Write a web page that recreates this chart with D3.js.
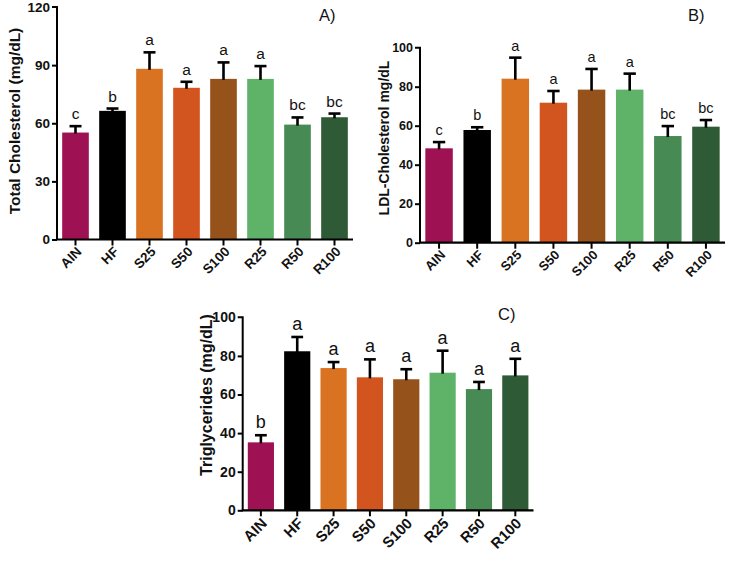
<!DOCTYPE html>
<html>
<head>
<meta charset="utf-8">
<script src="https://cdn.jsdelivr.net/npm/d3@7"></script>
<style>
  html, body { margin: 0; padding: 0; background: #fff; }
  svg { display: block; }
  text { font-family: "Liberation Sans", Arial, sans-serif; }
</style>
</head>
<body>
<svg id="chart" width="733" height="564"></svg>
<script>
// ---- data ----
const groups = ["AIN", "HF", "S25", "S50", "S100", "R25", "R50", "R100"];
const colors = ["#9E1153", "#000000", "#D97321", "#D2541F", "#95521B", "#5EB369", "#488A54", "#2E5A35"];

const totalChol     = [55.2, 66.4, 88.1, 78.3, 82.9, 82.9, 59.3, 63.1];
const totalCholErr  = [3.3, 1.2, 8.5, 3.1, 8.5, 6.6, 3.7, 1.9];
const totalCholSig  = ["c", "b", "a", "a", "a", "a", "bc", "bc"];
const totalCholTicks = [0, 30, 60, 90, 120];

const ldlChol     = [48.4, 57.8, 84.1, 71.8, 78.5, 78.5, 54.7, 59.5];
const ldlCholErr  = [3.2, 1.4, 10.8, 6.0, 10.6, 8.2, 5.1, 3.4];
const ldlCholSig  = ["c", "b", "a", "a", "a", "a", "bc", "bc"];
const ldlCholTicks = [0, 20, 40, 60, 80, 100];

const trig     = [35.2, 82.4, 73.7, 68.9, 67.9, 71.3, 62.8, 69.9];
const trigErr  = [3.7, 7.4, 3.1, 9.3, 5.2, 11.4, 3.7, 8.6];
const trigSig  = ["b", "a", "a", "a", "a", "a", "a", "a"];
const trigTicks = [0, 20, 40, 60, 80, 100];

const svg = d3.select("#chart");

function panel(cfg) {
  const g = svg.append("g");
  const x = d3.scaleBand().domain(groups).range([cfg.x0, cfg.x1])
    .paddingInner(0.28).paddingOuter(0.14);
  const y = d3.scaleLinear().domain([0, cfg.max]).range([cfg.y0, cfg.y1]);

  // bars
  g.selectAll("rect.bar").data(groups).enter().append("rect")
    .attr("x", d => x(d))
    .attr("width", x.bandwidth())
    .attr("y", (d, i) => y(cfg.values[i]))
    .attr("height", (d, i) => y(0) - y(cfg.values[i]))
    .attr("fill", (d, i) => colors[i]);

  // error bars (upper only)
  const capW = x.bandwidth() * 0.45;
  groups.forEach((d, i) => {
    const cx = x(d) + x.bandwidth() / 2;
    const top = y(cfg.values[i] + cfg.errs[i]);
    g.append("line").attr("x1", cx).attr("x2", cx)
      .attr("y1", y(cfg.values[i]) + 1).attr("y2", top)
      .attr("stroke", "#000").attr("stroke-width", 2.6);
    g.append("line").attr("x1", cx - capW / 2).attr("x2", cx + capW / 2)
      .attr("y1", top).attr("y2", top)
      .attr("stroke", "#000").attr("stroke-width", 2.6);
    g.append("text").attr("x", cx).attr("y", top - cfg.sigGap)
      .attr("text-anchor", "middle")
      .attr("font-size", cfg.sigSize)
      .attr("fill", "#111")
      .text(cfg.sig[i]);
  });

  // y axis
  const ya = g.append("g").attr("transform", `translate(${cfg.x0},0)`)
    .call(d3.axisLeft(y).tickValues(cfg.ticks).tickSize(5).tickPadding(2).tickFormat(d3.format("d")));
  ya.select(".domain").attr("stroke-width", 2).attr("d", `M-5,${y(cfg.max)}H0V${y(0)}`);
  ya.selectAll(".tick line").attr("stroke-width", 2);
  ya.selectAll(".tick text").attr("font-size", cfg.tickSize).attr("font-weight", "bold")
    .attr("fill", "#111");
  ya.selectAll(".tick").filter(d => d === cfg.max).select("line").remove();

  // x axis
  const xa = g.append("g").attr("transform", `translate(0,${cfg.y0})`)
    .call(d3.axisBottom(x).tickSize(6).tickPadding(4));
  xa.select(".domain").attr("stroke-width", 2.2).attr("d", `M${cfg.x0 - 1},0H${cfg.x1}`);
  xa.selectAll(".tick line").attr("stroke-width", 2);
  xa.selectAll(".tick text")
    .attr("font-size", cfg.xSize).attr("font-weight", "bold").attr("fill", "#111")
    .attr("text-anchor", "end")
    .attr("dy", null).attr("y", 0)
    .attr("transform", `translate(${cfg.xShift[0]},${cfg.xShift[1]}) rotate(-45)`);

  // y title
  g.append("text")
    .attr("transform", `translate(${cfg.titleX},${cfg.titleY}) rotate(-90)`)
    .attr("text-anchor", "middle")
    .attr("font-size", cfg.titleSize).attr("font-weight", "bold").attr("fill", "#111")
    .text(cfg.title);

  // panel label
  g.append("text").attr("x", cfg.labelX).attr("y", cfg.labelY)
    .attr("font-size", cfg.labelSize).attr("fill", "#111")
    .text(cfg.label);
}

panel({
  x0: 57, x1: 353, y0: 239.5, y1: 7, max: 120,
  values: totalChol, errs: totalCholErr, sig: totalCholSig, ticks: totalCholTicks,
  tickSize: 13.5, xSize: 13.5, xShift: [7, 13], sigSize: 15.5, sigGap: 7,
  title: "Total Cholesterol (mg/dL)", titleX: 20, titleY: 121, titleSize: 15.5,
  label: "A)", labelX: 319, labelY: 21, labelSize: 16.5
});

panel({
  x0: 420, x1: 725, y0: 242.7, y1: 47.7, max: 100,
  values: ldlChol, errs: ldlCholErr, sig: ldlCholSig, ticks: ldlCholTicks,
  tickSize: 12.5, xSize: 13, xShift: [7, 13], sigSize: 14.5, sigGap: 7,
  title: "LDL-Cholesterol mg/dL", titleX: 389, titleY: 138, titleSize: 14,
  label: "B)", labelX: 688, labelY: 21, labelSize: 16.5
});

panel({
  x0: 242.7, x1: 533.5, y0: 510.3, y1: 317.3, max: 100,
  values: trig, errs: trigErr, sig: trigSig, ticks: trigTicks,
  tickSize: 14, xSize: 15, xShift: [7, 14], sigSize: 18, sigGap: 7,
  title: "Triglycerides (mg/dL)", titleX: 212, titleY: 395, titleSize: 16,
  label: "C)", labelX: 498, labelY: 320, labelSize: 16.5
});
</script>
</body>
</html>
